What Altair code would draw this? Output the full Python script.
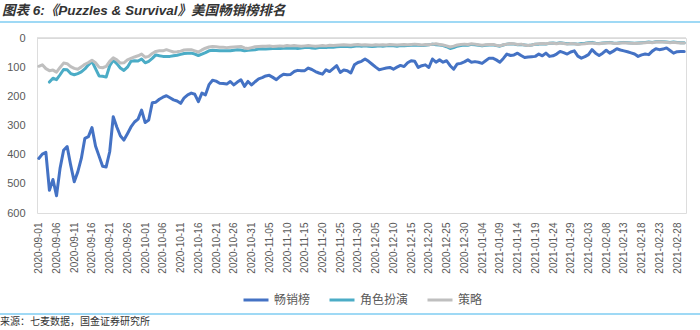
import altair as alt
import pandas as pd

# Daily categories 2020-09-01 .. 2021-03-02
dates = [d.strftime("%Y-%m-%d") for d in pd.date_range("2020-09-01", "2021-03-02", freq="D")]
tick_labels = dates[::5]

# 畅销榜 (top grossing)
grossing = [
    413, 398, 392, 522, 485, 541, 447, 385, 372, 436,
    493, 459, 413, 344, 338, 307, 370, 405, 440, 442,
    390, 270, 305, 335, 350, 328, 305, 288, 278, 247,
    290, 281, 222, 220, 210, 203, 198, 205, 212, 216,
    224, 205, 195, 189, 193, 218, 189, 195, 160, 145,
    148, 155, 156, 158, 149, 161, 151, 143, 166, 149,
    161, 150, 140, 136, 130, 128, 135, 143, 132, 124,
    126, 125, 115, 111, 112, 112, 103, 108, 115, 120,
    124, 109, 115, 105, 95, 118, 110, 112, 120, 92,
    84, 80, 72, 80, 90, 100, 109, 106, 103, 101,
    107, 100, 94, 98, 85, 78, 80, 101, 95, 92,
    101, 72, 83, 75, 83, 78, 95, 107, 89, 87,
    82, 75, 83, 81, 83, 87, 78, 69, 69, 75,
    83, 70, 55, 60, 58, 52, 60, 67, 65, 64,
    63, 55, 61, 52, 63, 61, 55, 46, 50, 55,
    48, 44, 62, 69, 64, 57, 40, 52, 60, 52,
    42, 52, 45, 37, 41, 44, 47, 51, 55, 63,
    58, 55, 57, 45, 37, 40, 38, 34, 43, 52,
    47, 46, 46,
]

# 角色扮演 (role playing) - starts 2020-09-04
rpg = [
    None, None, None, 151, 138, 143, 126, 108, 109, 122,
    126, 122, 116, 106, 92, 80, 105, 130, 131, 134,
    95, 76, 88, 103, 111, 100, 80, 78, 79, 72,
    85, 80, 70, 58, 61, 63, 63, 63, 61, 59,
    56, 53, 52, 52, 55, 60, 55, 50, 44, 42,
    43, 44, 44, 44, 44, 42, 40, 41, 44, 42,
    41, 40, 38, 37, 38, 37, 36, 35, 36, 35,
    34, 35, 34, 36, 34, 33, 32, 34, 35, 33,
    32, 33, 31, 32, 30, 29, 28, 29, 30, 28,
    27, 28, 27, 28, 29, 28, 27, 28, 27, 26,
    27, 28, 26, 27, 26, 25, 24, 25, 26, 25,
    23, 21, 23, 24, 26, 30, 36, 33, 28, 26,
    24, 25, 22, 23, 25, 27, 25, 24, 23, 26,
    28, 24, 21, 20, 21, 23, 22, 24, 26, 24,
    21, 21, 20, 21, 18, 17, 19, 16, 18, 20,
    19, 20, 21, 19, 18, 16, 15, 18, 19, 17,
    16, 15, 17, 18, 16, 15, 16, 17, 18, 17,
    16, 15, 14, 15, 13, 12, 13, 14, 15, 14,
    15, 16, 16,
]

# 策略 (strategy)
strategy = [
    97, 92, 105, 112, 110, 117, 101, 86, 88, 98,
    104, 107, 99, 90, 84, 76, 85, 100, 102, 97,
    80, 68, 75, 86, 85, 75, 70, 65, 61, 55,
    66, 63, 53, 46, 44, 44, 40, 44, 48, 47,
    45, 41, 40, 40, 44, 48, 41, 35, 31, 29,
    30, 32, 32, 33, 32, 31, 30, 29, 34, 36,
    33, 30, 29, 28, 28, 27, 29, 28, 27, 28,
    26, 27, 26, 27, 28, 27, 26, 27, 28, 27,
    26, 27, 25, 26, 25, 24, 23, 24, 25, 23,
    22, 24, 23, 24, 25, 23, 24, 23, 24, 22,
    23, 24, 23, 22, 23, 22, 21, 22, 24, 22,
    23, 21, 20, 22, 24, 27, 31, 28, 24, 22,
    21, 22, 20, 21, 23, 25, 23, 22, 22, 25,
    27, 23, 21, 19, 20, 22, 21, 24, 26, 24,
    21, 20, 19, 20, 18, 18, 20, 17, 19, 21,
    19, 20, 22, 21, 20, 18, 17, 19, 20, 18,
    17, 16, 18, 19, 17, 16, 17, 18, 19, 18,
    17, 16, 15, 16, 14, 13, 14, 15, 16, 15,
    16, 17, 17,
]

series_names = ["畅销榜", "角色扮演", "策略"]
series_colors = ["#4472C4", "#4BACC6", "#BFBFBF"]
y_ticks = [0, 100, 200, 300, 400, 500, 600]

title_text = "图表 6:《Puzzles & Survival》美国畅销榜排名"
source_text = "来源：七麦数据，国金证券研究所"

rows = []
for name, vals in zip(series_names, [grossing, rpg, strategy]):
    for d, v in zip(dates, vals):
        rows.append({"date": d, "rank": v, "series": name})
df = pd.DataFrame(rows)

W, H = 649, 175
PAD_L, PAD_T = 37, 38

color = alt.Color(
    "series:N",
    scale=alt.Scale(domain=series_names, range=series_colors),
    legend=alt.Legend(
        title=None,
        orient="none",
        direction="horizontal",
        legendX=205,
        legendY=248,
        symbolType="stroke",
        symbolStrokeWidth=3,
        symbolSize=625,
        labelFont="Noto Sans CJK SC",
        labelFontSize=12,
        labelColor="#595959",
        labelOffset=4,
        columnPadding=12,
    ),
)

x = alt.X(
    "date:O",
    sort=dates,
    scale=alt.Scale(domain=dates, padding=0.5),
    axis=alt.Axis(
        title=None,
        values=tick_labels,
        labelAngle=270,
        labelFont="Liberation Sans",
        labelFontSize=10,
        labelColor="#595959",
        labelPadding=9,
        labelOverlap=False,
        ticks=False,
        domain=False,
        grid=False,
    ),
)
y_scale = alt.Scale(domain=[0, 600], reverse=True, nice=False, zero=True)
y_axis = alt.Axis(
    title=None,
    values=y_ticks,
    tickCount=7,
    labelFont="Liberation Sans",
    labelFontSize=11,
    labelColor="#595959",
    labelPadding=12,
    labelOverlap=False,
    labelBound=False,
    ticks=False,
    domain=False,
    grid=False,
)
y = alt.Y("rank:Q", scale=y_scale, axis=y_axis)

base = alt.Chart(df)
layers = []
for name in series_names:
    layers.append(
        base.transform_filter(alt.datum.series == name)
        .mark_line(strokeWidth=3, strokeCap="round", strokeJoin="round")
        .encode(x=x, y=y, color=color)
    )

one = pd.DataFrame({"a": [0]})
zero_line = alt.Chart(one).mark_rule(color="#D9D9D9", strokeWidth=1.5).encode(
    x=alt.value(0), x2=alt.value(W), y=alt.YDatum(0, scale=y_scale, axis=y_axis)
)
header_rule = alt.Chart(one).mark_rule(color="#7FCDF2", strokeWidth=1.5).encode(
    x=alt.value(-PAD_L), x2=alt.value(700 - PAD_L), y=alt.value(22 - PAD_T)
)
footer_rule = alt.Chart(one).mark_rule(color="#7FCDF2", strokeWidth=1.5).encode(
    x=alt.value(-PAD_L), x2=alt.value(700 - PAD_L), y=alt.value(314 - PAD_T)
)
title_mark = alt.Chart(pd.DataFrame({"t": [title_text]})).mark_text(
    align="left", baseline="middle", font="Liberation Sans, Noto Sans CJK SC",
    fontSize=13.5, fontStyle="italic", fontWeight="bold", color="#333333"
).encode(text="t:N", x=alt.value(2 - PAD_L), y=alt.value(11 - PAD_T))
source_mark = alt.Chart(pd.DataFrame({"t": [source_text]})).mark_text(
    align="left", baseline="middle", font="Noto Sans CJK SC",
    fontSize=10, color="#333333"
).encode(text="t:N", x=alt.value(0 - PAD_L), y=alt.value(322 - PAD_T))

chart = alt.layer(
    zero_line, *layers, header_rule, footer_rule, title_mark, source_mark
).properties(
    width=W,
    height=H,
    autosize=alt.AutoSizeParams(type="none"),
    padding={"left": PAD_L, "top": PAD_T, "right": 700 - PAD_L - W, "bottom": 330 - PAD_T - H},
).configure_view(stroke=None).configure(background="white")

chart.save("out.html", embed_options={"renderer": "svg", "actions": False})
